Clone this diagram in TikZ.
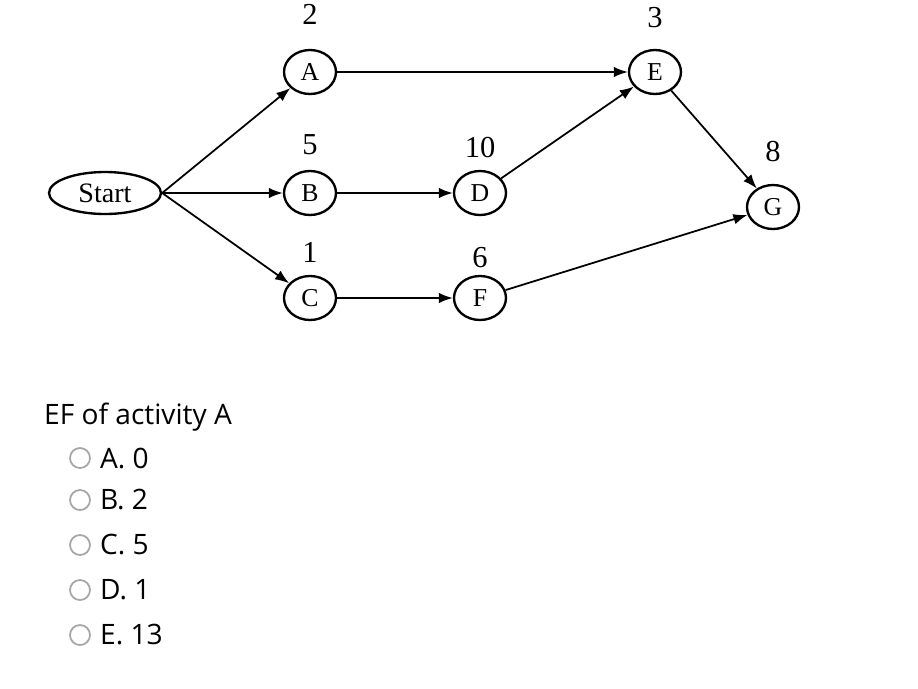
\documentclass[tikz,border=0pt]{standalone}
\usepackage{fontspec}
\setmainfont{Liberation Serif}
\newfontfamily\qfont{Open Sans}
\usetikzlibrary{shapes.geometric,arrows.meta}
\begin{document}
\begin{tikzpicture}[x=0.03cm,y=-0.03cm,
  act/.style={draw,line width=2pt,ellipse,minimum width=52*0.03cm,minimum height=44*0.03cm,inner sep=0pt,font=\fontsize{22}{22}\selectfont},
  lbl/.style={font=\fontsize{26}{26}\selectfont},
  arr/.style={-{Latex[length=12pt,width=9pt]},line width=1.5pt},
  radio/.style={draw=gray!70,line width=1.5pt,circle,minimum size=20*0.03cm,inner sep=0pt},
  opt/.style={anchor=west,font=\qfont\fontsize{24}{24}\selectfont}]
\useasboundingbox (0,0) rectangle (918,688);
\node[act,minimum width=112*0.03cm,minimum height=42*0.03cm,font=\fontsize{24}{24}\selectfont] (S) at (105,193) {Start};
\node[act] (A) at (310,72) {A};
\node[act] (B) at (310,193) {B};
\node[act] (C) at (310,298) {C};
\node[act] (D) at (480,193) {D};
\node[act] (E) at (655,72) {E};
\node[act] (F) at (480,298) {F};
\node[act] (G) at (773,207) {G};
\node[lbl] (la) at (310,14) {2};
\node[lbl] (lb) at (310,145) {5};
\node[lbl] (lc) at (310,252) {1};
\node[lbl] (ld) at (480,148) {10};
\node[lbl] (le) at (655,18) {3};
\node[lbl] (lf) at (480,258) {6};
\node[lbl] (lg) at (773,152) {8};
\draw[arr] (S.east) -- (A);
\draw[arr] (S.east) -- (B);
\draw[arr] (S.east) -- (C);
\draw[arr] (A) -- (E);
\draw[arr] (B) -- (D);
\draw[arr] (C) -- (F);
\draw[arr] (D) -- (E);
\draw[arr] (E) -- (G);
\draw[arr] (F) -- (G);
\node[opt] (q) at (40,417) {EF of activity A};
\foreach \y/\t/\n in {458/A. 0/a,500/B. 2/b,545/C. 5/c,590/D. 1/d,635/E. 13/e}{
  \node[radio] (r\n) at (80,\y) {};
  \node[opt] (t\n) at (96,\y) {\t};
}
\end{tikzpicture}
\end{document}
